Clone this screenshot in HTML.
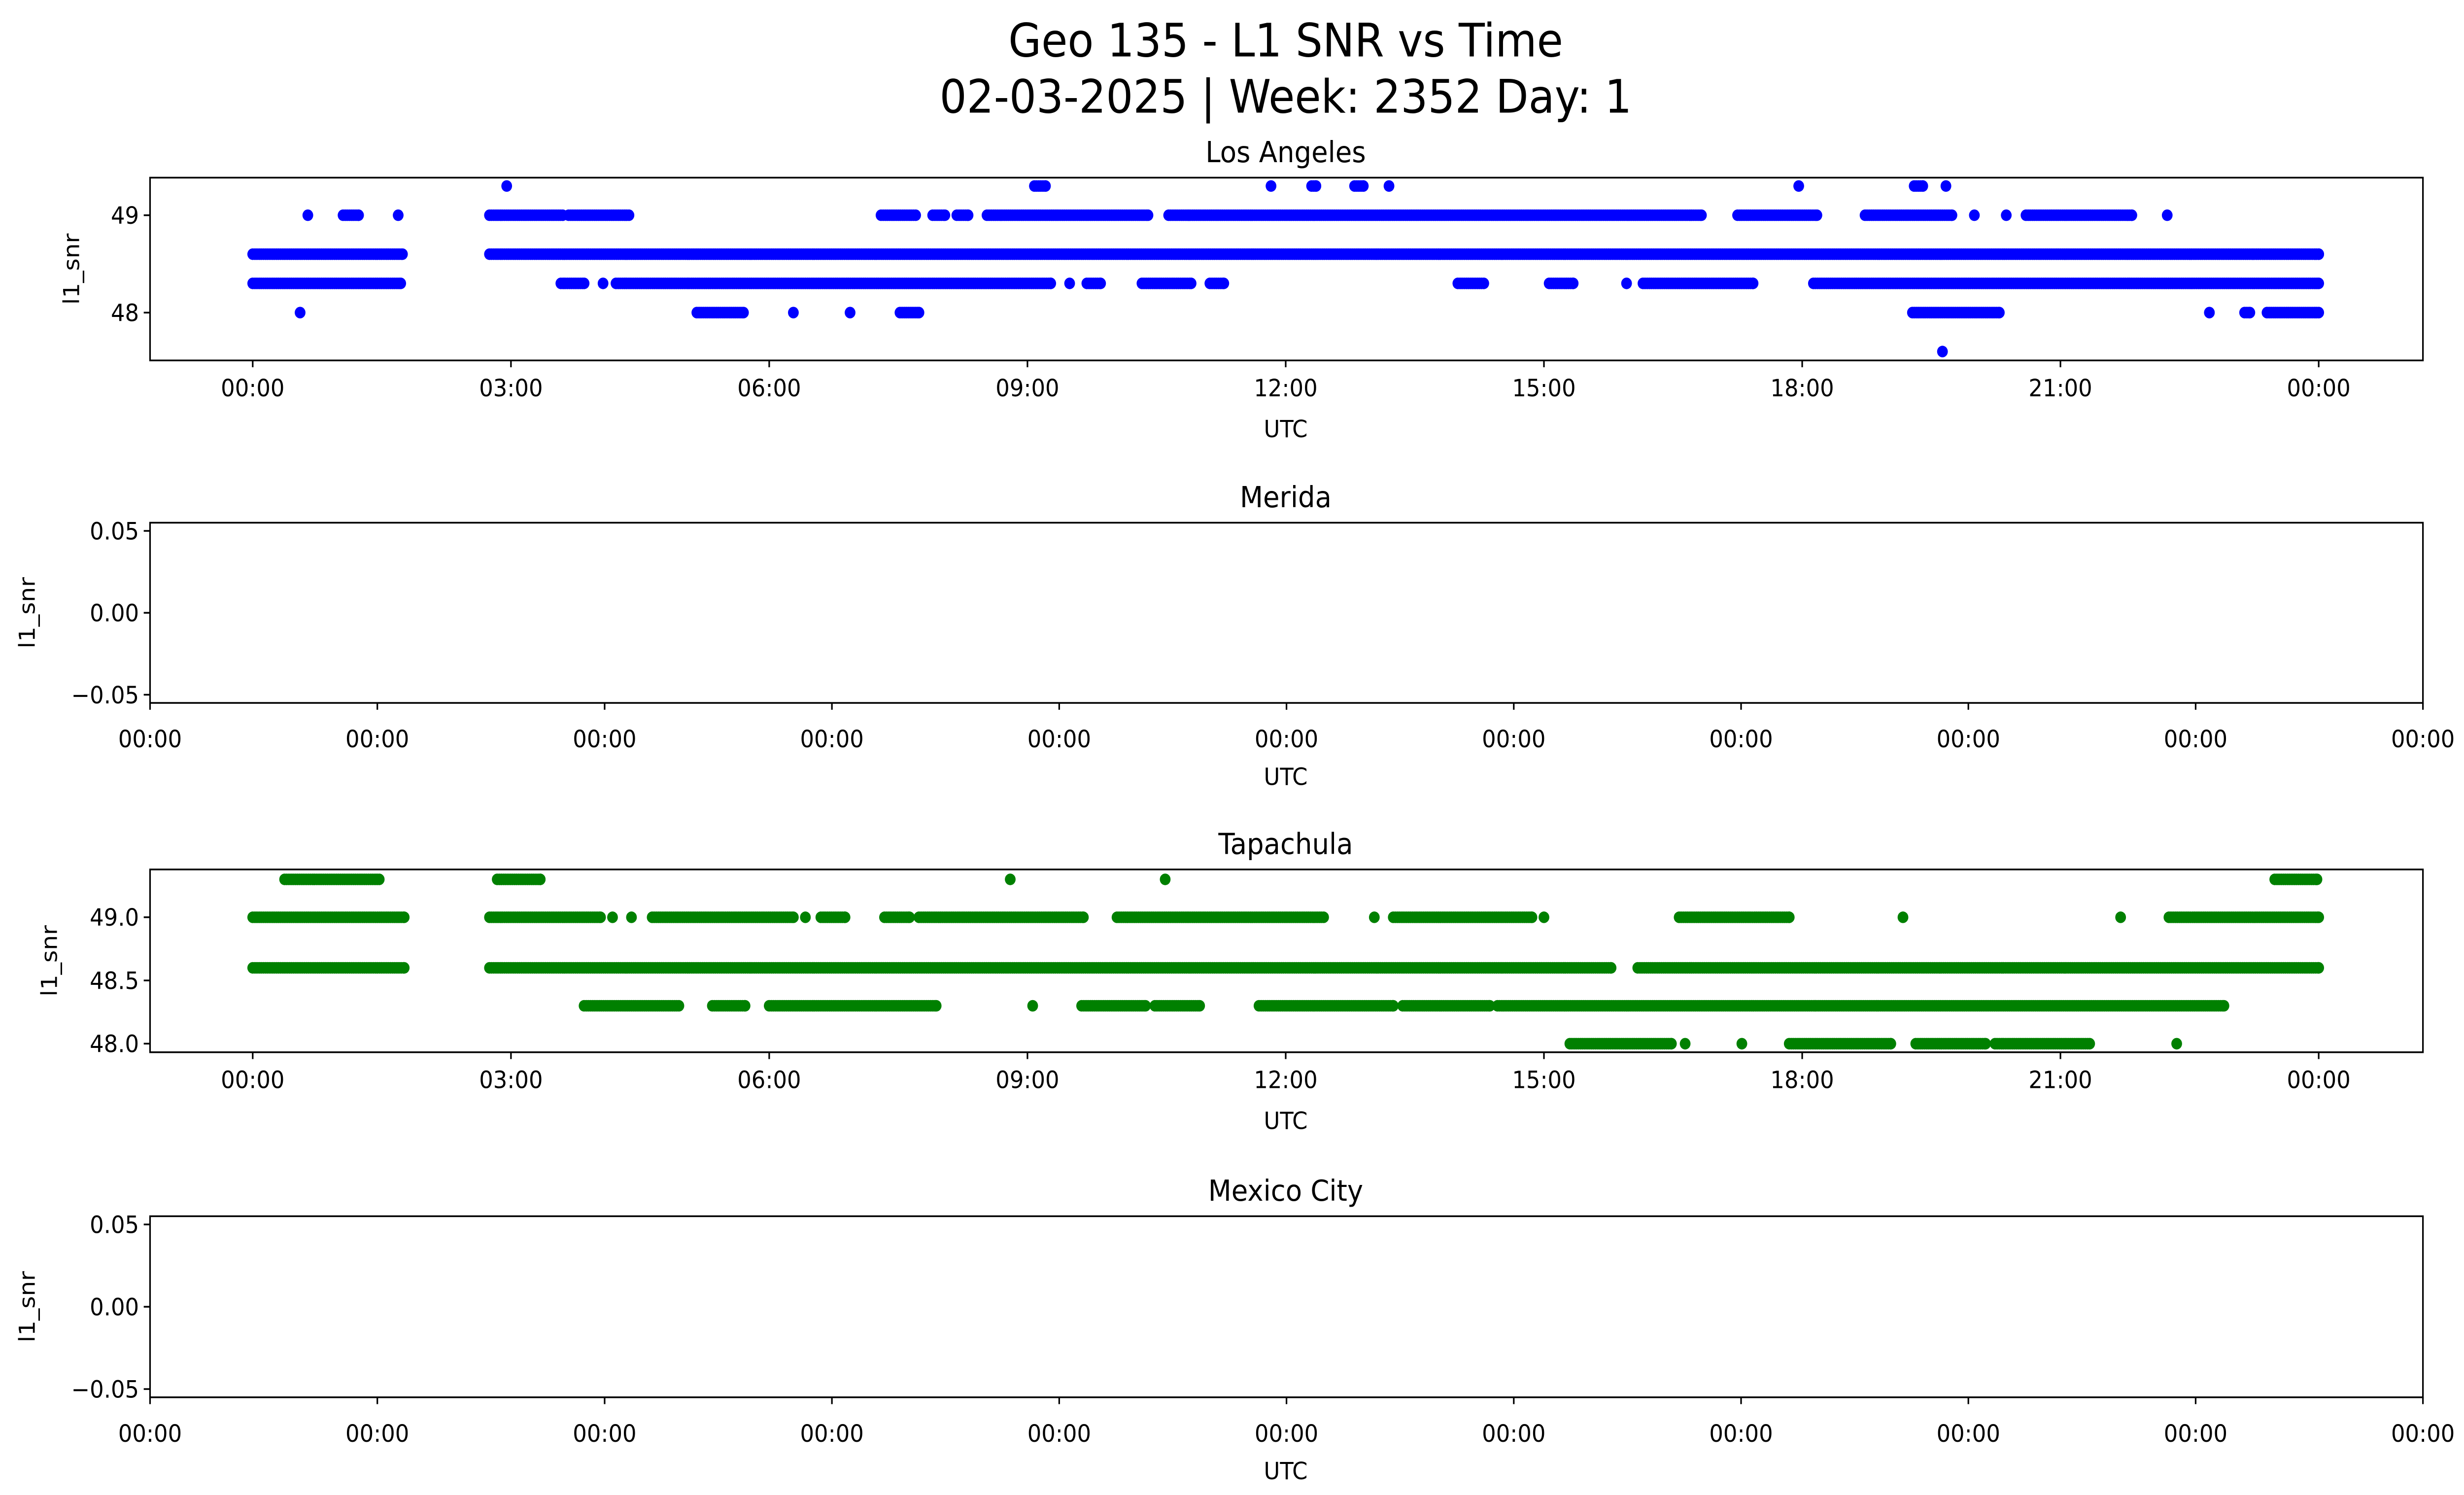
<!DOCTYPE html>
<html><head><meta charset="utf-8">
<style>
html,body{margin:0;padding:0;background:#fff;width:100%;height:100%;overflow:hidden;}
svg{display:block;position:absolute;left:0;top:0;width:100vw;height:100vh;}
text{font-family:"DejaVu Sans","Liberation Sans",sans-serif;fill:#000;}
</style></head>
<body>
<svg id="fig" viewBox="0 0 1560 875.2" preserveAspectRatio="none" xmlns="http://www.w3.org/2000/svg">
<rect width="1560" height="876" fill="#fff"/>
<text x="814" y="33" font-size="27" text-anchor="middle">Geo 135 - L1 SNR vs Time</text>
<text x="814" y="66" font-size="27" text-anchor="middle">02-03-2025 | Week: 2352 Day: 1</text>
<g id="plots"></g>
</svg>
<script>
// Los Angeles runs [startHour, endHour] per SNR level
const laLevels = [49.3, 49.0, 48.6, 48.3, 48.0, 47.6];
const laRuns = [
 [[2.95,2.95],[9.08,9.21],[11.83,11.83],[12.3,12.35],[12.8,12.9],[13.2,13.2],[17.96,17.96],[19.3,19.4],[19.67,19.67]],
 [[0.64,0.64],[1.05,1.23],[1.69,1.69],[2.75,3.6],[3.67,4.37],[7.3,7.7],[7.9,8.04],[8.18,8.31],[8.53,10.4],[10.64,16.83],[17.25,18.17],[18.73,19.74],[20.0,20.0],[20.37,20.37],[20.6,21.83],[22.24,22.24]],
 [[0,1.74],[2.75,24]],
 [[0,1.72],[3.58,3.85],[4.07,4.07],[4.22,9.27],[9.49,9.49],[9.69,9.85],[10.33,10.9],[11.12,11.28],[14.0,14.3],[15.06,15.34],[15.96,15.96],[16.15,17.43],[18.13,24]],
 [[0.55,0.55],[5.16,5.7],[6.28,6.28],[6.94,6.94],[7.52,7.74],[19.28,20.29],[22.73,22.73],[23.14,23.2],[23.4,24]],
 [[19.63,19.63]]
];
const laTicks = [48, 49];
// Tapachula
const tpLevels = [49.3, 49.0, 48.6, 48.3, 48.0];
const tpRuns = [
 [[0.37,1.47],[2.84,3.34],[8.8,8.8],[10.6,10.6],[23.49,23.98]],
 [[0,1.76],[2.75,4.04],[4.18,4.18],[4.4,4.4],[4.64,6.28],[6.42,6.42],[6.6,6.88],[7.34,7.63],[7.74,9.65],[10.04,12.44],[13.03,13.03],[13.25,14.86],[15.0,15.0],[16.57,17.85],[19.17,19.17],[21.7,21.7],[22.26,24]],
 [[0,1.76],[2.75,15.78],[16.09,24]],
 [[3.85,4.95],[5.34,5.72],[6.0,7.94],[9.06,9.06],[9.63,10.37],[10.48,11.0],[11.69,13.25],[13.36,14.37],[14.46,22.9]],
 [[15.3,16.48],[16.64,16.64],[17.3,17.3],[17.85,19.03],[19.32,20.13],[20.24,21.34],[22.35,22.35]]
];
const tpTicks = [48.0, 48.5, 49.0];
const timeTicks = ["00:00","03:00","06:00","09:00","12:00","15:00","18:00","21:00","00:00"];
const timeTickHours = [0,3,6,9,12,15,18,21,24];
const emptyTicks = [-0.05, 0.00, 0.05];
const emptyXTicks = ["00:00","00:00","00:00","00:00","00:00","00:00","00:00","00:00","00:00","00:00","00:00"];

const NS = "http://www.w3.org/2000/svg";
const root = document.getElementById('plots');
const L = 95, R = 1534;
function mk(tag, attrs, parent){
  const e = document.createElementNS(NS, tag);
  for (const k in attrs) e.setAttribute(k, attrs[k]);
  (parent||root).appendChild(e); return e;
}
function txt(s, x, y, size, anchor, parent){
  const t = mk('text', {x:x, y:y, 'font-size':size, 'text-anchor':anchor||'middle'}, parent);
  t.textContent = s; return t;
}
function xH(h){ return 160 + h*(1308/24); }

function panel(name, top, bot, ymin, ymax, levels, runs, color, yticks, yfmt, ylabX, timeAxis){
  const g = mk('g', {});
  
  
  const yS = v => bot - (v - ymin) / (ymax - ymin) * (bot - top);
  const tt = txt(name.replace(/-/g,' ').replace(/\b\w/g,c=>c.toUpperCase()), 814, top-9, 17, 'middle', g);
  
  
  if (levels) {
    const pts = mk('g', {fill: color}, g);
    
    
    levels.forEach((lv, i) => {
      runs[i].forEach(r => {
        for (let h = r[0]; h <= r[1] + 1e-9; h += 0.025) {
          const c = mk('circle', {cx: xH(h).toFixed(1), cy: yS(lv).toFixed(1), r: 3.4}, pts);
          
          
        }
        if ((r[1]-r[0]) % 0.025 > 0.001) {
          const c = mk('circle', {cx: xH(r[1]).toFixed(1), cy: yS(lv).toFixed(1), r: 3.4}, pts);
          
          
        }
      });
    });
  }
  const fr = mk('rect', {x:L, y:top, width:R-L, height:bot-top, fill:'none', stroke:'#000', 'stroke-width':1}, g);
  
  
  yticks.forEach(v => {
    const y = yS(v);
    mk('line', {x1:L-4, x2:L, y1:y, y2:y, stroke:'#000', 'stroke-width':1}, g);
    const t = txt(yfmt(v), L-7, y+5, 14, 'end', g);
    
    
  });
  const yl = txt('l1_snr', 0, 0, 14, 'middle', g);
  yl.setAttribute('transform', `translate(${ylabX},${(top+bot)/2}) rotate(-90)`);
  
  
  if (timeAxis) {
    timeTickHours.forEach((h, i) => {
      const x = xH(h);
      mk('line', {x1:x, x2:x, y1:bot, y2:bot+4, stroke:'#000', 'stroke-width':1}, g);
      const t = txt(timeTicks[i], x, bot+21, 14, 'middle', g);
      
      
    });
  } else {
    emptyXTicks.forEach((s, i) => {
      const x = L + i*(R-L)/(emptyXTicks.length-1);
      mk('line', {x1:x, x2:x, y1:bot, y2:bot+4, stroke:'#000', 'stroke-width':1}, g);
      const t = txt(s, x, bot+26, 14, 'middle', g);
      
      
    });
  }
  const xl = txt('UTC', 814, bot + (timeAxis ? 45 : 48), 14, 'middle', g);
  
  
}

panel('los-angeles', 104, 211, 47.509, 49.386, laLevels, laRuns, '#0000ff', laTicks, v=>String(v), 50, true);
panel('merida', 306, 411.5, -0.055, 0.055, null, null, null, emptyTicks, v=>v<0?'\u22120.05':v.toFixed(2), 22, false);
panel('tapachula', 509, 616, 47.932, 49.378, tpLevels, tpRuns, '#008000', tpTicks, v=>v.toFixed(1), 36, true);
panel('mexico-city', 712, 818, -0.055, 0.055, null, null, null, emptyTicks, v=>v<0?'\u22120.05':v.toFixed(2), 22, false);
</script>
</body></html>
